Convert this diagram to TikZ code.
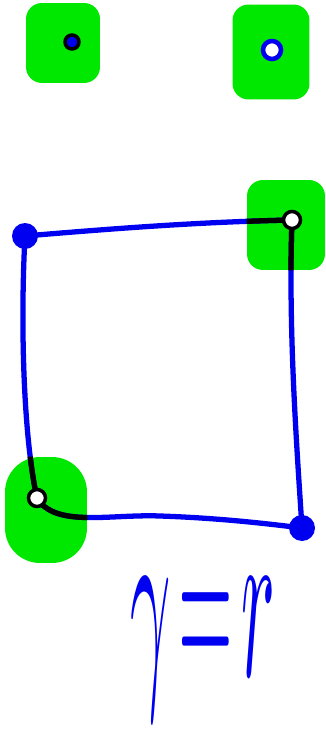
\documentclass[tikz,border=0pt]{standalone}
\usepackage{graphicx}
\usetikzlibrary{positioning}
\definecolor{hlgreen}{RGB}{0,232,0}
\definecolor{penblue}{RGB}{0,0,240}

\begin{document}
\begin{tikzpicture}[
    x=0.02cm, y=-0.02cm,
    blob/.style={fill=hlgreen, rounded corners=0.32cm, inner sep=0pt},
    dot/.style={circle, fill=penblue, minimum size=0.52cm, inner sep=0pt},
    ring/.style={circle, draw=black, line width=2pt, fill=white, minimum size=0.34cm, inner sep=0pt},
    bluering/.style={circle, draw=penblue, line width=2.6pt, fill=white, minimum size=0.36cm, inner sep=0pt},
    edge/.style={draw=penblue, line width=3pt, line cap=round}
]
\useasboundingbox (0,0) rectangle (325,736);

% highlight blobs
\node[blob, minimum width=1.48cm, minimum height=1.6cm] (g1) at (63,43) {};
\node[blob, minimum width=1.54cm, minimum height=1.9cm] (g2) at (271,52) {};
\node[blob, minimum width=1.56cm, minimum height=1.8cm] (g3) at (286,225) {};
\node[blob, minimum width=1.64cm, minimum height=2.12cm, rounded corners=0.7cm] (g4) at (46,510) {};

% vertices
\coordinate (v1) at (25,236);
\coordinate (v2) at (292,220);
\coordinate (v3) at (37,498);
\coordinate (v4) at (302,528);

% edges
\draw[edge] (v1) .. controls (120,228) and (200,222) .. (v2);
\draw[edge] (v1) .. controls (20,330) and (24,440) .. (v3);
\draw[edge] (v2) .. controls (288,330) and (297,450) .. (v4);
\draw[edge] (v3) .. controls (55,528) and (110,514) .. (160,516)
    .. controls (220,518) and (270,524) .. (v4);

% strokes under the highlight turn black
\foreach \g in {g3,g4}{
  \begin{scope}
    \clip[rounded corners=0.32cm] (\g.south west) rectangle (\g.north east);
    \draw[edge, draw=black] (v1) .. controls (120,228) and (200,222) .. (v2);
    \draw[edge, draw=black] (v1) .. controls (20,330) and (24,440) .. (v3);
    \draw[edge, draw=black] (v2) .. controls (288,330) and (297,450) .. (v4);
    \draw[edge, draw=black] (v3) .. controls (55,528) and (110,514) .. (160,516)
        .. controls (220,518) and (270,524) .. (v4);
  \end{scope}
}

\node[dot] (n1) at (v1) {};
\node[dot] (n4) at (v4) {};
\node[ring] (n2) at (v2) {};
\node[ring] (n3) at (v3) {};

% lone marks in the top blobs
\node[ring, fill=penblue, minimum size=0.28cm] (m1) at (72,42) {};
\node[bluering] (m2) at (272,50) {};

% label
\node[text=penblue] (eq) at (203,650) {\scalebox{4}[13]{$\gamma\!=\!r$}};
\end{tikzpicture}
\end{document}
